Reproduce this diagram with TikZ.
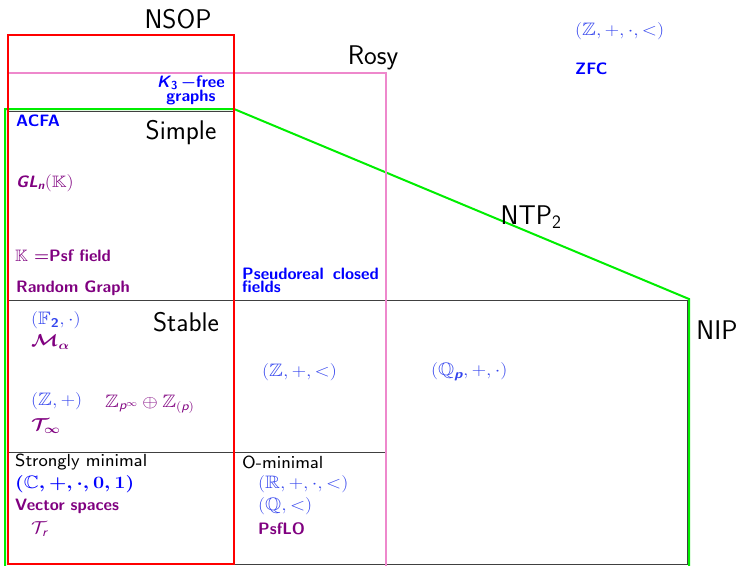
\documentclass[tikz,border=0pt]{standalone}
\usepackage{amsmath,amssymb}
\usepackage{graphicx}
\usepackage{tikz}
\usetikzlibrary{positioning}
\definecolor{nsopc}{HTML}{FF0000}
\definecolor{rosyc}{HTML}{EE88CC}
\definecolor{ntpc}{HTML}{00EE00}
\definecolor{exblue}{HTML}{0000FF}
\definecolor{exmath}{HTML}{3344EE}
\definecolor{expur}{HTML}{800080}
\font\plainsf=cmss8 at 17.5pt
\newcommand{\sv}[1]{\textsf{\slshape #1}}
\newcommand{\svb}[1]{\textsf{\bfseries\slshape #1}}
\newcommand{\wide}[1]{\scalebox{1.15}[1]{#1}}

\begin{document}
\begin{tikzpicture}[
  x=1pt, y=-1pt,
  font=\sffamily,
  region/.style={font=\sffamily\fontsize{27}{31}\selectfont},
  item/.style={anchor=west, inner sep=0pt, font=\sffamily\fontsize{16.5}{18}\selectfont},
  itemb/.style={item, font=\sffamily\bfseries\fontsize{16.5}{18}\selectfont},
  itemm/.style={item, font=\sffamily\fontsize{18}{20}\selectfont},
  blueb/.style={itemb, text=exblue},
  bluem/.style={itemm, text=exmath},
  purb/.style={itemb, text=expur},
  purm/.style={itemm, text=expur},
  plain/.style={item, text=black, font=\plainsf},
  sep/.style={draw=black!75, line width=1pt}
]
  \useasboundingbox[fill=white] (0,0) rectangle (739,565);

  % boundaries of the classes
  \draw[sep] (8,111) -- (234,111);
  \draw[sep] (8,300) -- (687,300) -- (687,564) -- (234,564);
  \draw[sep] (8,452) -- (386,452);
  \draw[ntpc, line width=2pt] (5,566) -- (5,109) -- (234,109) -- (689,299) -- (689,566);
  \draw[rosyc, line width=2pt] (8,73) -- (386,73) -- (386,566);
  \draw[nsopc, line width=2pt] (8,35) rectangle (234,564);

  % class names
  \node[region] (nsop) at (178,19) {NSOP};
  \node[region] (rosy) at (373,58) {Rosy};
  \node[region] (simple) at (181,133) {Simple};
  \node[region] (ntp) at (531,217) {NTP$_{\textsf{2}}$};
  \node[region] (stable) at (186,322) {Stable};
  \node[region] (nip) at (717,330) {NIP};

  % examples
  \node[blueb, anchor=center, align=center] (kfree) at (191,90)
    {\svb{K}$_{\textbf{3}}$\,$\boldsymbol{-}$free\\[-4pt]graphs};
  \node[blueb] (acfa) at (16,121) {ACFA};
  \node[purb] (gln) at (16,183) {\svb{GL}$_{\svb{n}}$\wide{$(\mathbb{K})$}};
  \node[purb] (psff) at (15,256) {$\mathbb{K}$ $\boldsymbol{=}$Psf field};
  \node[purb] (rgraph) at (16,288) {Random Graph};
  \node[blueb, align=left] (prc) at (242,280) {Pseudoreal\hspace{0.55em}closed\\[-5pt]fields};

  \node[bluem] (ftwo) at (31,320) {\wide{$(\mathbb{F}_{\textbf{2}},\cdot)$}};
  \node[purm] (malpha) at (31,342) {\wide{$\boldsymbol{\mathcal{M}_\alpha}$}};
  \node[bluem] (zplus) at (31,401) {\wide{$(\mathbb{Z},+)$}};
  \node[purm] (zpinf) at (105,404) {\wide{$\mathbb{Z}_{\sv{p}^\infty}\oplus\mathbb{Z}_{(\sv{p})}$}};
  \node[purm] (tinf) at (31,426) {\wide{$\boldsymbol{\mathcal{T}_\infty}$}};
  \node[bluem] (zord) at (262,372) {\wide{$(\mathbb{Z},+,<)$}};
  \node[bluem] (qp) at (431,372) {\wide{$(\mathbb{Q}_{\svb{p}},+,\cdot)$}};

  \node[plain] (smin) at (15,462) {Strongly minimal};
  \node[blueb, font=\sffamily\fontsize{18}{20}\selectfont] (cfield) at (15,484) {\wide{$\boldsymbol{(\mathbb{C},+,\cdot,0,1)}$}};
  \node[purb] (vspace) at (15,506) {Vector spaces};
  \node[purm] (tr) at (31,529) {\wide{$\mathcal{T}_{\sv{r}}$}};

  \node[plain] (omin) at (242,462) {O-minimal};
  \node[bluem] (rfield) at (258,484) {\wide{$(\mathbb{R},+,\cdot,<)$}};
  \node[bluem] (qord) at (258,506) {\wide{$(\mathbb{Q},<)$}};
  \node[purb] (psflo) at (258,529) {PsfLO};

  \node[bluem] (arith) at (575,31) {\wide{$(\mathbb{Z},+,\cdot,<)$}};
  \node[blueb] (zfc) at (575,69) {ZFC};
\end{tikzpicture}
\end{document}
